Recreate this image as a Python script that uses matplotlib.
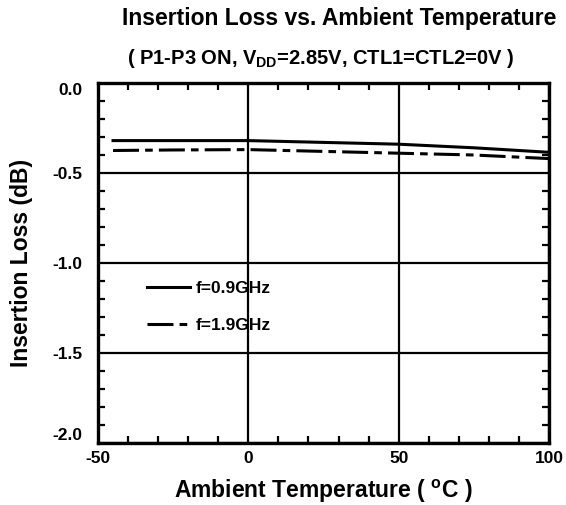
import matplotlib
matplotlib.use("Agg")
import matplotlib.pyplot as plt
from matplotlib.ticker import MultipleLocator

plt.rcParams['font.family'] = ['Liberation Sans', 'DejaVu Sans']
plt.rcParams['font.weight'] = 'bold'
plt.rcParams['mathtext.fontset'] = 'custom'
plt.rcParams['mathtext.rm'] = 'Liberation Sans:bold'
plt.rcParams['mathtext.it'] = 'Liberation Sans:bold'
plt.rcParams['mathtext.bf'] = 'Liberation Sans:bold'
plt.rcParams['mathtext.default'] = 'rm'
plt.rcParams['axes.unicode_minus'] = False

temp = [-45, -25, 0, 25, 50, 75, 100]
loss_09 = [-0.32, -0.32, -0.32, -0.33, -0.34, -0.36, -0.385]
loss_19 = [-0.375, -0.372, -0.37, -0.38, -0.39, -0.40, -0.42]
labels = ['f=0.9GHz', 'f=1.9GHz']

fig = plt.figure(figsize=(5.66, 5.05), dpi=100)
ax = fig.add_axes([98/566, 1-443/505, 451/566, 360/505])

ax.plot(temp, loss_09, color='black', lw=2.2, label=labels[0])
ax.plot(temp, loss_19, color='black', lw=2.2, dashes=(8.5, 2, 2.5, 2), label=labels[1])

ax.set_xlim(-50, 100)
ax.set_ylim(-2.0, 0.0)
ax.xaxis.set_major_locator(MultipleLocator(50))
ax.xaxis.set_minor_locator(MultipleLocator(10))
ax.yaxis.set_major_locator(MultipleLocator(0.5))
ax.yaxis.set_minor_locator(MultipleLocator(0.1))
ax.yaxis.set_major_formatter(plt.FuncFormatter(lambda v, p: f"{v:.1f}"))
ax.grid(True, which='major', color='black', lw=1.6)
ax.tick_params(which='both', direction='in', top=True, right=True, width=1.6,
               labelsize=12.5)
ax.tick_params(which='major', length=0)
ax.tick_params(axis='x', which='major', pad=6)
ax.tick_params(axis='y', which='major', pad=11)
ax.tick_params(which='minor', length=5)
for s in ax.spines.values():
    s.set_linewidth(2.4)

ax.set_xlabel('Ambient Temperature ( $^{o}$C )', fontsize=16.5, fontweight='bold')
ax.set_ylabel('Insertion Loss (dB)', fontsize=16.5, fontweight='bold')
ax.xaxis.set_label_coords(0.5, -0.097)
ax.yaxis.set_label_coords(-0.144, 0.5)

fig.text(0.599, 1-18/505, 'Insertion Loss vs. Ambient Temperature', ha='center', va='center',
         fontsize=16.5, fontweight='bold')
fig.text(0.566, 1-59/505, '( P1-P3 ON, V$_{DD}$=2.85V, CTL1=CTL2=0V )', ha='center', va='center',
         fontsize=14.5, fontweight='bold')

leg = ax.legend(loc='center left', bbox_to_anchor=(0.1086, 0.378), frameon=False,
                borderpad=0, borderaxespad=0,
                handlelength=2.5, handletextpad=0.3, labelspacing=1.25,
                prop={'weight': 'bold', 'size': 12.5})

fig.canvas.draw()
for t in ax.yaxis.get_major_ticks():
    lab = t.label1
    lab.set_fontweight('bold')
    if lab.get_text() == '0.0':
        lab.set_va('top')
    elif lab.get_text() == '-2.0':
        lab.set_va('bottom')
for t in ax.xaxis.get_major_ticks():
    t.label1.set_fontweight('bold')

fig.savefig('out.png', dpi=100)
